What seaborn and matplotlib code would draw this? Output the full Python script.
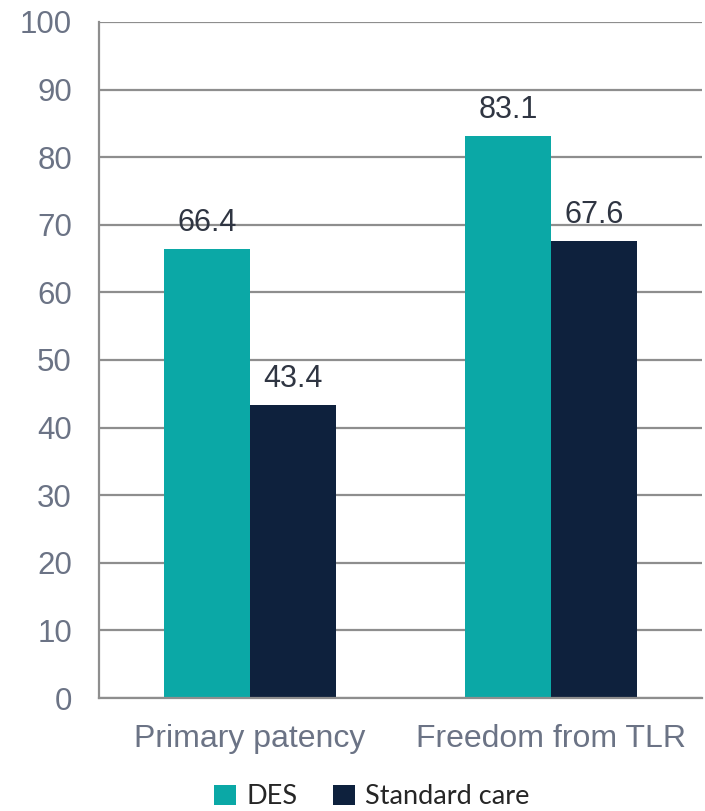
import matplotlib
matplotlib.use("Agg")
import matplotlib.pyplot as plt
import seaborn as sns
import pandas as pd
from matplotlib.patches import Patch

# Outcome data (%)
categories = ["Primary patency", "Freedom from TLR"]
groups = ["DES", "Standard care"]
des_values = [66.4, 83.1]
standard_values = [43.4, 67.6]
y_ticks = [0, 10, 20, 30, 40, 50, 60, 70, 80, 90, 100]

colors = {"DES": "#0BA8A6", "Standard care": "#0E213D"}
grid_color = "#8E8E8E"
tick_color = "#6B7385"
value_color = "#2F3542"

df = pd.DataFrame({
    "category": categories * 2,
    "group": [groups[0]] * len(categories) + [groups[1]] * len(categories),
    "value": des_values + standard_values,
})

sns.set_style("white")
plt.rcParams["font.family"] = ["Liberation Sans", "DejaVu Sans"]

fig = plt.figure(figsize=(7.05, 8.11), dpi=100)
ax = fig.add_axes([99 / 705, 113 / 811, 603 / 705, 676 / 811])

sns.barplot(data=df, x="category", y="value", hue="group", order=categories,
            hue_order=groups, palette=colors, width=0.57, linewidth=0,
            saturation=1, ax=ax, legend=False)

ax.set_ylim(0, 100)
ax.set_xlim(-0.5, len(categories) - 0.5)
ax.set_yticks(y_ticks)
ax.set_yticklabels([str(t) for t in y_ticks])
ax.yaxis.grid(True, color=grid_color, linewidth=1.6)
ax.set_axisbelow(True)
ax.set_xlabel("")
ax.set_ylabel("")

for side in ["top", "right"]:
    ax.spines[side].set_visible(False)
for side in ["left", "bottom"]:
    ax.spines[side].set_color(grid_color)
    ax.spines[side].set_linewidth(1.6)

ax.tick_params(axis="y", length=6.5, width=1.6, color=grid_color,
               labelsize=22.5, labelcolor=tick_color, pad=13)
ax.tick_params(axis="x", which="major", length=0, labelsize=23,
               labelcolor=tick_color, pad=19)
ax.set_xticks([i - 0.5 for i in range(len(categories) + 1)], minor=True)
ax.tick_params(axis="x", which="minor", length=6.5, width=1.6, color=grid_color)

# Value labels above each bar
for container in ax.containers:
    for bar in container:
        h = bar.get_height()
        ax.annotate(f"{h:.1f}", (bar.get_x() + bar.get_width() / 2, h),
                    xytext=(0, 13), textcoords="offset points",
                    ha="center", va="baseline", fontsize=22,
                    color=value_color, clip_on=False)

handles = [Patch(facecolor=colors[g], edgecolor="none") for g in groups]
fig.legend(handles, groups, loc="center", bbox_to_anchor=(372 / 705, 14 / 811),
           ncol=2, frameon=False, handlelength=0.8, handleheight=0.8,
           handletextpad=0.4, columnspacing=1.3,
           prop={"family": ["Lato", "DejaVu Sans"], "size": 19.5})

fig.savefig("out.png", dpi=100)
